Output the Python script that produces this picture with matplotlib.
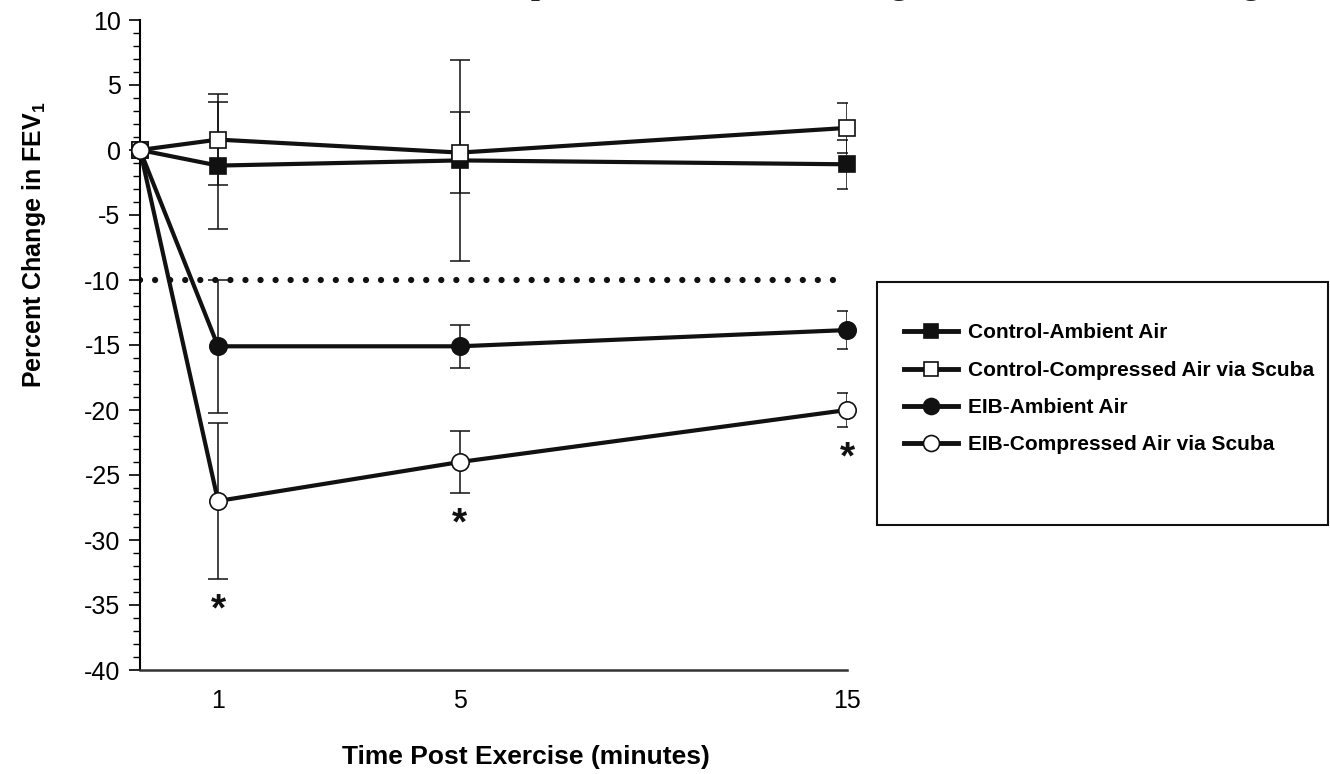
import matplotlib
matplotlib.use("Agg")
import matplotlib.pyplot as plt
from matplotlib.patches import Rectangle
from matplotlib.lines import Line2D

# data
times = [0, 1, 5, 15]
time_labels = ["1", "5", "15"]
x_pos = [0, 1, 4.1, 9.06]          # where each time point sits on the drawn axis

ctrl_ambient = [0, -1.2, -0.8, -1.1]
ctrl_ambient_err = [0, 4.9, 7.7, 1.9]
ctrl_scuba = [0, 0.8, -0.2, 1.7]
ctrl_scuba_err = [0, 3.5, 3.1, 1.9]
eib_ambient = [0, -15.1, -15.1, -13.85]
eib_ambient_err = [0, 5.1, 1.65, 1.45]
eib_scuba = [0, -27.0, -24.0, -20.0]
eib_scuba_err = [0, 6.0, 2.4, 1.3]
signif = [False, True, True, True]   # asterisks under EIB-scuba
threshold = -10

names = ["Control-Ambient Air", "Control-Compressed Air via Scuba",
         "EIB-Ambient Air", "EIB-Compressed Air via Scuba"]

plt.rcParams['font.family'] = ['Liberation Sans', 'DejaVu Sans']
plt.rcParams['axes.unicode_minus'] = False
plt.rcParams['mathtext.fontset'] = 'custom'
plt.rcParams['mathtext.rm'] = 'Liberation Sans'
plt.rcParams['mathtext.bf'] = 'Liberation Sans:bold'

W, H = 1330, 774
fig = plt.figure(figsize=(W / 100, H / 100), dpi=100)
ax = fig.add_axes([140 / W, 1 - 670 / H, (847 - 140) / W, (670 - 20) / H])

ax.hlines(threshold, 0, 8.9, colors='#111111', linewidth=4.5,
          linestyles=(0, (0.01, 2.4)), capstyle='round', zorder=1)

series = [
    (ctrl_ambient, ctrl_ambient_err, 's', '#111111', 11),
    (ctrl_scuba, ctrl_scuba_err, 's', 'white', 11),
    (eib_ambient, eib_ambient_err, 'o', '#111111', 12.5),
    (eib_scuba, eib_scuba_err, 'o', 'white', 12.5),
]
handles = []
for (vals, errs, mk, fc, ms), name in zip(series, names):
    ax.errorbar(x_pos[1:], vals[1:], yerr=errs[1:], fmt='none', ecolor='#111111',
                elinewidth=1.1, capsize=7, capthick=1.1, zorder=2)
    ax.plot(x_pos, vals, color='#111111', linewidth=3, marker=mk, markersize=ms,
            markerfacecolor=fc, markeredgecolor='#111111', markeredgewidth=1.2,
            clip_on=False, zorder=3)
    handles.append(Line2D([], [], color='#111111', linewidth=3.5, marker=mk,
                          markersize=ms - 1, markerfacecolor=fc,
                          markeredgecolor='#111111', markeredgewidth=1.2, label=name))

for xp, v, e, s in zip(x_pos, eib_scuba, eib_scuba_err, signif):
    if s:
        ax.text(xp, v - e - 2.4, "*", ha='center', va='center',
                fontsize=28, fontweight='bold', color='#111111')

ax.set_xlim(0, x_pos[-1])
ax.set_ylim(-40, 10)
ax.set_yticks(range(-40, 11, 5))
ax.set_yticks(range(-40, 11, 1), minor=True)
ax.set_xticks(x_pos[1:])
ax.set_xticklabels(time_labels)
ax.tick_params(axis='y', which='major', length=8, width=1.2, labelsize=18, pad=6)
ax.tick_params(axis='y', which='minor', length=5, width=1)
ax.tick_params(axis='x', length=0, labelsize=18, pad=14)
for sp in ['top', 'right']:
    ax.spines[sp].set_visible(False)
ax.spines['left'].set_linewidth(1.5)
ax.spines['bottom'].set_linewidth(1.8)
ax.spines['bottom'].set_color('#333333')

ax.set_xlabel("Time Post Exercise (minutes)", fontsize=19, fontweight='bold')
ax.xaxis.set_label_coords(0.546, -0.134)
ax.xaxis.label.set_va('center')
ax.set_ylabel(r"Percent Change in FEV$_\mathbf{1}$", fontsize=18, fontweight='bold')
ax.yaxis.set_label_coords(-0.15, 0.655)
ax.yaxis.label.set_va('center')

fig.patches.append(Rectangle((877 / W, 1 - 525 / H), 451 / W, 243 / H,
                             transform=fig.transFigure, fill=False,
                             edgecolor='#111111', linewidth=1.5))
fig.legend(handles=handles, loc='center left', bbox_to_anchor=(885 / W, 1 - 389 / H),
           frameon=False, handlelength=2.6, handletextpad=0.5, labelspacing=0.88,
           prop={'weight': 'bold', 'size': 15})

# title of the source figure is cut off at the top edge
fig.text(395 / W, 1 + 6 / H, "after, compressed air scuba breathing vs. ambient air breathing",
         ha='left', va='baseline', fontsize=23, fontweight='bold',
         family='Liberation Serif', color='#222222')

fig.savefig("out.png", dpi=100)
